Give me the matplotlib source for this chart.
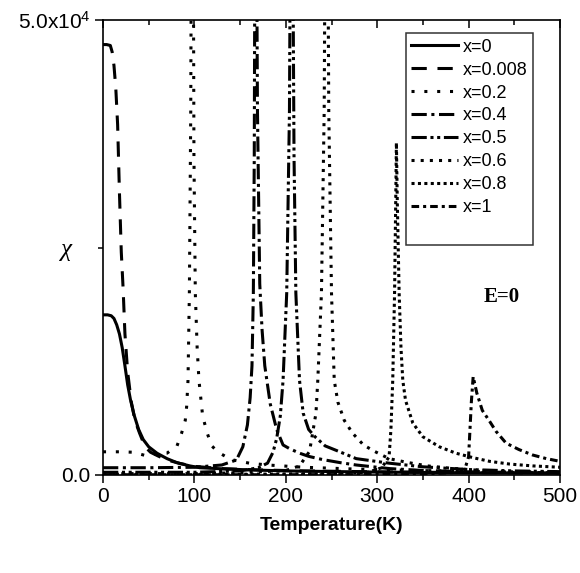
import matplotlib
matplotlib.use("Agg")
import matplotlib.pyplot as plt
from matplotlib.ticker import MultipleLocator

plt.rcParams['font.family'] = ['Liberation Sans', 'DejaVu Sans']
plt.rcParams['mathtext.default'] = 'regular'

# ---- data ----
T_x0 = [0, 5, 9, 12, 15, 18, 21, 24, 27, 30, 34, 39, 44, 50, 59, 70, 81, 95, 106, 130, 160, 200, 250, 300, 400, 500]
chi_x0 = [17600, 17600, 17500, 17200, 16500, 15500, 14000, 12000, 9900, 8300, 6600, 5000, 3900, 3100, 2400, 1800,
          1350, 1000, 800, 680, 560, 450, 380, 320, 240, 190]

T_x0008 = [0, 4, 8, 10, 12, 14, 16, 18, 20, 22, 24, 27, 31, 35, 40, 46, 52, 60, 70, 85, 100, 130, 170, 220, 300, 400, 500]
chi_x0008 = [47300, 47300, 47200, 46500, 45000, 42500, 38500, 31000, 24500, 20500, 15500, 11300, 8000, 6000, 4600,
             3100, 2500, 2100, 1650, 1250, 950, 700, 560, 450, 350, 260, 210]

T_x02 = [0, 20, 33, 46, 59, 70, 81, 86, 90, 91.5, 93, 94.5, 96, 97, 98.5, 99.5, 101, 103, 105, 109, 114, 119, 126,
         140, 160, 180, 220, 280, 350, 420, 500]
chi_x02 = [2550, 2550, 2500, 2150, 2350, 2400, 3200, 4600, 6000, 7500, 10400, 20000, 40000, 70000, 70000, 35000,
           20000, 14000, 10400, 6500, 4600, 3200, 2500, 1700, 1300, 1100, 850, 640, 480, 380, 330]

T_x04 = [0, 50, 100, 130, 146, 153, 158, 161, 163, 164.5, 165.5, 166.5, 167.5, 169, 171.5, 174, 177, 183, 190,
         197, 204, 215, 225, 240, 260, 277, 300, 314, 350, 400, 450, 500]
chi_x04 = [800, 800, 850, 1100, 1650, 3100, 5500, 8500, 12000, 20000, 35000, 70000, 70000, 40000, 21000, 16000,
           12000, 7800, 5000, 3300, 2900, 2400, 2050, 1700, 1350, 1100, 850, 700, 500, 350, 280, 230]

T_x05 = [0, 100, 150, 170, 180, 186, 190, 194, 197, 201, 204, 205.5, 207, 209, 211, 215, 219, 225, 232, 243,
         259, 277, 313, 350, 400, 450, 500]
chi_x05 = [300, 300, 450, 800, 1300, 2500, 4000, 6500, 10400, 20000, 40000, 70000, 70000, 35000, 20000, 10400,
           6800, 5000, 4200, 3200, 2550, 1800, 1300, 900, 600, 450, 370]

T_x06 = [0, 100, 150, 200, 215, 226, 233, 235, 239, 242, 243.5, 245.5, 247, 250, 253, 257, 264, 273, 285, 297,
         313, 332, 355, 380, 420, 460, 500]
chi_x06 = [150, 150, 250, 500, 1000, 2600, 6800, 10400, 20000, 40000, 70000, 70000, 40000, 20000, 10400, 8000,
           6000, 4600, 3300, 2600, 1800, 1400, 1000, 750, 450, 300, 200]

T_x08 = [0, 150, 250, 290, 305, 313, 315, 317, 319, 320.5, 321, 322, 324, 326, 328, 331, 339, 350, 368, 386,
         405, 423, 445, 470, 500]
chi_x08 = [80, 80, 150, 300, 800, 2000, 5000, 10400, 20000, 32000, 36500, 30000, 20000, 14000, 10400, 8200,
           5700, 4200, 3100, 2400, 1900, 1500, 1200, 1000, 850]

T_x1 = [0, 200, 300, 350, 390, 397, 400, 401.5, 403, 405, 409, 415, 423, 430, 441, 455, 470, 485, 500]
chi_x1 = [30, 30, 50, 100, 300, 1000, 2000, 5000, 8000, 10800, 9000, 7100, 5900, 4800, 3500, 2800, 2200, 1800, 1500]

labels = ['x=0', 'x=0.008', 'x=0.2', 'x=0.4', 'x=0.5', 'x=0.6', 'x=0.8', 'x=1']
x_ticks = [0, 100, 200, 300, 400, 500]

# ---- styles ----
lw = 2.2
styles = [
    '-',
    (0, (5, 3.5)),
    (0, (1, 3.2)),
    (0, (5, 1.5, 1, 1.5)),
    (0, (5, 1.2, 1, 1.2, 1, 1.2)),
    (0, (1, 2.0)),
    (0, (1, 1.1)),
    (0, (2.5, 1.3, 1, 1.3)),
]
series = [(T_x0, chi_x0), (T_x0008, chi_x0008), (T_x02, chi_x02), (T_x04, chi_x04),
          (T_x05, chi_x05), (T_x06, chi_x06), (T_x08, chi_x08), (T_x1, chi_x1)]

fig = plt.figure(figsize=(5.8, 5.73), dpi=100)
ax = fig.add_axes([103 / 580, 1 - 475 / 573, 457 / 580, 455 / 573])

for (t, c), ls, lab in zip(series, styles, labels):
    ax.plot(t, c, color='black', lw=lw, linestyle=ls, label=lab)
# blank row: leaves the empty space at the bottom of the legend box
ax.plot([], [], ' ', label=' ')

ax.set_xlim(0, 500)
ax.set_ylim(0, 50000)
ax.set_xticks(x_ticks)
ax.set_xticklabels([str(v) for v in x_ticks])
ax.xaxis.set_minor_locator(MultipleLocator(50))
ax.set_yticks([0, 50000])
ax.set_yticklabels(['0.0', '5.0x10$^4$'])
ax.set_yticks([25000], minor=True)
ax.set_yticklabels(['\u03c7'], minor=True, fontfamily='Liberation Serif', fontsize=18,
                   fontstyle='italic')

ax.tick_params(axis='both', which='major', direction='out', length=6, width=1.1, labelsize=15, pad=3)
ax.tick_params(axis='both', which='minor', direction='out', length=3.5, width=1.1)
ax.tick_params(axis='y', which='minor', pad=19)
ax.tick_params(axis='x', which='both', top=True, labeltop=False)
for t in ax.xaxis.get_major_ticks() + ax.xaxis.get_minor_ticks():
    t.tick2line.set_marker(3)  # top ticks point inward
for s in ax.spines.values():
    s.set_linewidth(1.2)

leg = ax.legend(loc='upper left', bbox_to_anchor=(0.663, 0.971), borderaxespad=0,
                frameon=True, fancybox=False, edgecolor='black', fontsize=13,
                handlelength=2.6, handletextpad=0.25, labelspacing=0.33, borderpad=0.3)
leg.get_frame().set_linewidth(1.1)

ax.text(436, 19600, 'E=0', fontfamily='Liberation Serif', fontweight='bold', fontsize=15,
        ha='center', va='center')

fig.text(332 / 580, 1 - 525 / 573, 'Temperature(K)', ha='center', va='center',
         fontsize=14, fontweight='bold')

fig.savefig('out.png', dpi=100)
